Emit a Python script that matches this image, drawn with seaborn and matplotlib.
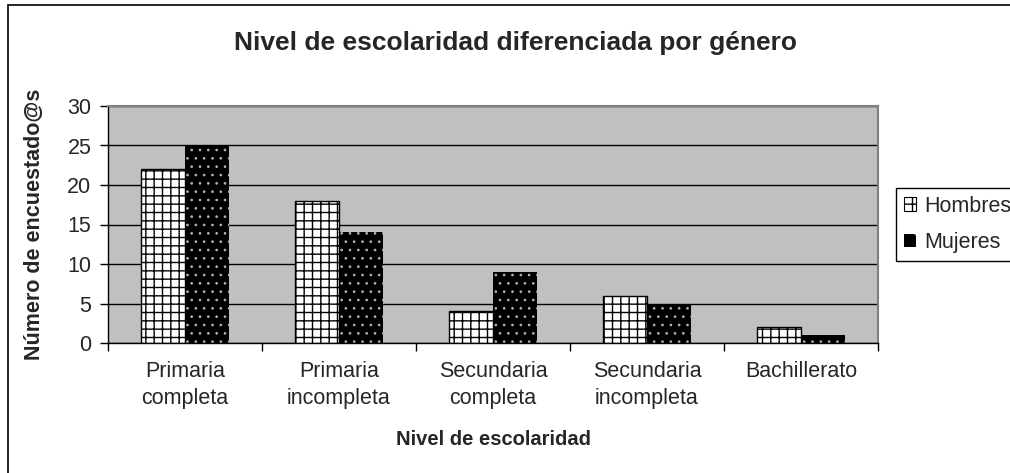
import pandas as pd
import matplotlib.pyplot as plt
import seaborn as sns
from matplotlib.patches import Patch, Rectangle

sns.set_theme(style="white")
plt.rcParams["font.family"] = ["Liberation Sans", "DejaVu Sans"]
plt.rcParams["hatch.linewidth"] = 1.0

## DATA
niveles = ["Primaria\ncompleta", "Primaria\nincompleta", "Secundaria\ncompleta",
           "Secundaria\nincompleta", "Bachillerato"]
hombres = [22, 18, 4, 6, 2]
mujeres = [25, 14, 9, 5, 1]
generos = ["Hombres", "Mujeres"]

df = pd.DataFrame({
    "nivel": niveles * 2,
    "valor": hombres + mujeres,
    "genero": ["Hombres"] * len(niveles) + ["Mujeres"] * len(niveles),
})

DOT_COLOR = "#b4b4b4"

## PLOT
fig = plt.figure(figsize=(10.1, 4.73), dpi=100)
ax = fig.add_axes([108 / 1010, 1 - 343 / 473, 770 / 1010, 237 / 473])

sns.barplot(data=df, x="nivel", y="valor", hue="genero", hue_order=generos,
            order=niveles, width=0.57, ax=ax, legend=False, saturation=1)

# Hombres: white with black grid, Mujeres: black with grey dots
for p in ax.containers[0]:
    p.set_facecolor("white")
    p.set_edgecolor("black")
    p.set_hatch("++")
    p.set_linewidth(1.0)
for p in ax.containers[1]:
    p.set_facecolor("black")
    p.set_edgecolor(DOT_COLOR)
    p.set_hatch("..")
    p.set_linewidth(0)
    if hasattr(p, "set_hatch_linewidth"):
        p.set_hatch_linewidth(0.7)

ax.set_facecolor("#c0c0c0")
ax.set_axisbelow(True)
ax.yaxis.grid(True, color="black", linewidth=1.0)
ax.set_ylim(0, 30)
ax.set_yticks([0, 5, 10, 15, 20, 25, 30])
ax.set_xlim(-0.5, len(niveles) - 0.5)

for side in ["left", "bottom"]:
    ax.spines[side].set_color("black")
    ax.spines[side].set_linewidth(1.0)
for side in ["top", "right"]:
    ax.spines[side].set_color("#808080")
    ax.spines[side].set_linewidth(1.5)

ax.tick_params(axis="y", left=True, length=6, width=1, color="black",
               labelsize=15.5, pad=6)
ax.tick_params(axis="x", which="major", bottom=True, length=0, labelsize=15.5, pad=13)
for lab in ax.get_xticklabels():
    lab.set_linespacing(1.35)
ax.set_xticks([i + 0.5 for i in range(-1, len(niveles))], minor=True)
ax.tick_params(axis="x", which="minor", bottom=True, length=6, width=1, color="black")

ax.set_xlabel("Nivel de escolaridad", fontsize=14.5, fontweight="bold")
ax.set_ylabel("Número de encuestado@s", fontsize=15.5, fontweight="bold")
ax.xaxis.set_label_coords(0.5, -0.365)
ax.yaxis.set_label_coords(-0.082, 0.5)

fig.text(516 / 1010, 1 - 43 / 473, "Nivel de escolaridad diferenciada por género",
         ha="center", va="center", fontsize=19, fontweight="bold")

handles = [
    Patch(facecolor="white", edgecolor="black", hatch="++", linewidth=0.8),
    Patch(facecolor="black", edgecolor=DOT_COLOR, hatch=".", linewidth=0),
]
# legend box runs off the right edge, as in the original
leg = fig.legend(handles, generos, loc="upper left", mode="expand",
                 bbox_to_anchor=(896 / 1010, 1 - 188 / 473, 0.2, 0), fontsize=15.5,
                 frameon=True, fancybox=False, facecolor="white", framealpha=1,
                 handlelength=0.6, handleheight=0.6,
                 handletextpad=0.35, borderpad=0.35, labelspacing=0.72,
                 borderaxespad=0)
leg.get_frame().set_edgecolor("black")
leg.get_frame().set_linewidth(1.0)

# outer chart border
fig.patches.append(Rectangle((8 / 1010, -0.1), 1.2, 0.1 + 1 - 5 / 473,
                             transform=fig.transFigure, fill=False,
                             edgecolor="black", linewidth=1.2))

fig.savefig("out.png", dpi=100)
